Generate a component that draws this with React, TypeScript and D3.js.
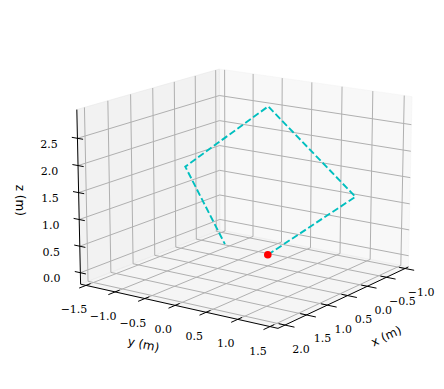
import * as d3 from "d3";

const W = 444;
const H = 389;

// tick values per axis
const xTicks = [-1.0, -0.5, 0.0, 0.5, 1.0, 1.5, 2.0];
const yTicks = [-1.5, -1.0, -0.5, 0.0, 0.5, 1.0, 1.5];
const zTicks = [0.0, 0.5, 1.0, 1.5, 2.0, 2.5];

// axis limits (m)
const xLim = [-1.09, 2.16];
const yLim = [-1.594, 1.622];
const zLim = [-0.217, 3.023];

// reference trajectory (m)
const pathX = [0, 0, 0, 0, 0];
const pathY = [0, 1.414, 0, -1.414, -0.73];
const pathZ = [0, 1.414, 2.828, 1.414, 0.04];

// current position (m)
const posX = [0];
const posY = [0];
const posZ = [0];

// view (matplotlib-like perspective, dist 10, focal length 1)
const ELEV = 15;
const AZIM = 35;
const DIST = 10;
const CX = 246.7;
const CY = 190.2;
const SCALE = 2082;

const aspectNorm = 1.8294640721620434 / Math.hypot(4, 4, 3);
const BOX = [4 * aspectNorm, 4 * aspectNorm, 3 * aspectNorm];

const sx = d3.scaleLinear().domain(xLim).range([-BOX[0] / 2, BOX[0] / 2]);
const sy = d3.scaleLinear().domain(yLim).range([-BOX[1] / 2, BOX[1] / 2]);
const sz = d3.scaleLinear().domain(zLim).range([-BOX[2] / 2, BOX[2] / 2]);

const e = (ELEV * Math.PI) / 180;
const a = (AZIM * Math.PI) / 180;
const wv = [Math.cos(e) * Math.cos(a), Math.cos(e) * Math.sin(a), Math.sin(e)];
const uv = [-Math.sin(a), Math.cos(a), 0];
const vv = [-Math.sin(e) * Math.cos(a), -Math.sin(e) * Math.sin(a), Math.cos(e)];
const dot = (p: number[], q: number[]) => p[0] * q[0] + p[1] * q[1] + p[2] * q[2];

function proj(x: number, y: number, z: number): [number, number] {
  const b = [sx(x), sy(y), sz(z)];
  const depth = DIST - dot(b, wv);
  return [CX + (SCALE * dot(b, uv)) / depth, CY - (SCALE * dot(b, vv)) / depth];
}

const [x0, x1] = xLim;
const [y0, y1] = yLim;
const [z0, z1] = zLim;

const line = d3.line<[number, number]>();
const poly = (pts: number[][]) => line(pts.map((p) => proj(p[0], p[1], p[2])))! + "Z";
const open = (pts: number[][]) => line(pts.map((p) => proj(p[0], p[1], p[2])))!;

const fmt = (v: number) => (v < 0 ? "\u2212" : "") + Math.abs(v).toFixed(1);

const GRID = "#b0b0b0";
const serif = "'DejaVu Serif', 'Liberation Serif', serif";
const sans = "'DejaVu Sans', sans-serif";

export default function App() {
  const ry = y1 - y0;
  const rx = x1 - x0;

  const xAxisA = proj(x1, y1, z0);
  const xAxisB = proj(x0, y1, z0);
  const yAxisA = proj(x1, y0, z0);
  const yAxisB = proj(x1, y1, z0);
  const zAxisA = proj(x1, y0, z0);
  const zAxisB = proj(x1, y0, z1);
  const angX = (Math.atan2(xAxisB[1] - xAxisA[1], xAxisB[0] - xAxisA[0]) * 180) / Math.PI;
  const angY = (Math.atan2(yAxisB[1] - yAxisA[1], yAxisB[0] - yAxisA[0]) * 180) / Math.PI;

  const traj = pathX.map((x, i) => proj(x, pathY[i], pathZ[i]));
  const pos = posX.map((x, i) => proj(x, posY[i], posZ[i]));

  return (
    <svg width={W} height={H} style={{ position: "absolute", left: 0, top: 0, background: "#fff" }}>
      {/* panes */}
      <path d={poly([[x0, y0, z0], [x0, y1, z0], [x0, y1, z1], [x0, y0, z1]])}
        fill="rgba(242,242,242,0.5)" stroke="rgba(242,242,242,0.5)" />
      <path d={poly([[x0, y0, z0], [x1, y0, z0], [x1, y0, z1], [x0, y0, z1]])}
        fill="rgba(230,230,230,0.5)" stroke="rgba(230,230,230,0.5)" />
      <path d={poly([[x0, y0, z0], [x1, y0, z0], [x1, y1, z0], [x0, y1, z0]])}
        fill="rgba(236,236,236,0.5)" stroke="rgba(236,236,236,0.5)" />

      {/* grid */}
      <g fill="none" stroke={GRID} strokeWidth={1}>
        {xTicks.map((t) => (
          <path key={"gx" + t} d={open([[t, y1, z0], [t, y0, z0], [t, y0, z1]])} />
        ))}
        {yTicks.map((t) => (
          <path key={"gy" + t} d={open([[x1, t, z0], [x0, t, z0], [x0, t, z1]])} />
        ))}
        {zTicks.map((t) => (
          <path key={"gz" + t} d={open([[x1, y0, t], [x0, y0, t], [x0, y1, t]])} />
        ))}
      </g>

      {/* axis lines */}
      <g stroke="#000" strokeWidth={1} fill="none">
        <path d={line([xAxisA, xAxisB])!} />
        <path d={line([yAxisA, yAxisB])!} />
        <path d={line([zAxisA, zAxisB])!} />
        {xTicks.map((t) => (
          <path key={"tx" + t} d={open([[t, y1 - 0.03 * ry, z0], [t, y1 + 0.045 * ry, z0]])} />
        ))}
        {yTicks.map((t) => (
          <path key={"ty" + t} d={open([[x1 - 0.03 * rx, t, z0], [x1 + 0.045 * rx, t, z0]])} />
        ))}
        {zTicks.map((t) => (
          <path key={"tz" + t} d={open([[x1, y0 + 0.03 * ry, t], [x1, y0 - 0.03 * ry, t]])} />
        ))}
      </g>

      {/* tick labels */}
      <g fontFamily={serif} fontSize={11} fill="#000" textAnchor="middle" dominantBaseline="central">
        {xTicks.map((t) => {
          const p = proj(t, y1, z0);
          return (
            <text key={"lx" + t} x={p[0] + 16} y={p[1] + 24}>{fmt(t)}</text>
          );
        })}
        {yTicks.map((t) => {
          const p = proj(x1, t, z0);
          return (
            <text key={"ly" + t} x={p[0] - 12} y={p[1] + 24.5}>{fmt(t)}</text>
          );
        })}
        {zTicks.map((t) => {
          const p = proj(x1, y0, t);
          return (
            <text key={"lz" + t} x={p[0] - 28.5} y={p[1] + 6}>{fmt(t)}</text>
          );
        })}
      </g>

      {/* axis labels */}
      <g fontFamily={sans} fontSize={12} fill="#000" textAnchor="middle" dominantBaseline="central">
        {(() => {
          const m = proj(x1, (y0 + y1) / 2, z0);
          return <text transform={`translate(${m[0] - 32.5},${m[1] + 39}) rotate(${angY})`}>y (m)</text>;
        })()}
        {(() => {
          const m = proj((x0 + x1) / 2, y1, z0);
          return <text transform={`translate(${m[0] + 40},${m[1] + 40}) rotate(${angX})`}>x (m)</text>;
        })()}
        {(() => {
          const m = proj(x1, y0, (z0 + z1) / 2);
          return <text transform={`translate(${m[0] - 58.5},${m[1] + 2.4}) rotate(90)`}>z (m)</text>;
        })()}
      </g>

      {/* data */}
      <path d={line(traj)!} fill="none" stroke="#00bfbf" strokeWidth={1.9} strokeDasharray="6.8,2.9" />
      {pos.map((p, i) => (
        <circle key={i} cx={p[0]} cy={p[1]} r={3.8} fill="#ff0000" />
      ))}
    </svg>
  );
}
